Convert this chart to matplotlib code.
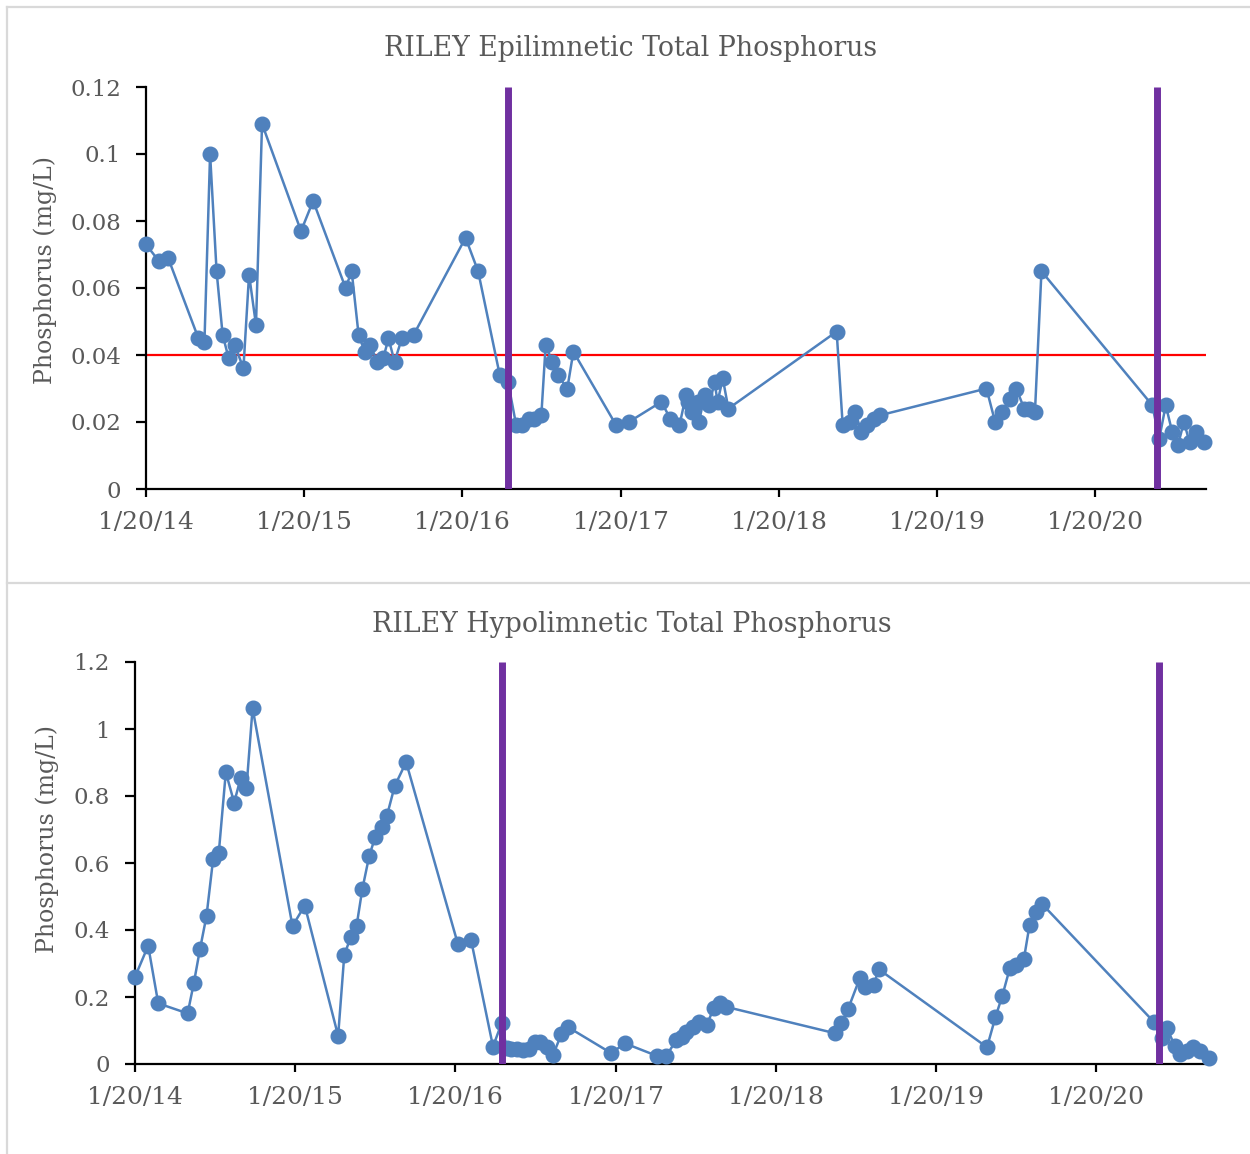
import matplotlib
matplotlib.use("Agg")
import matplotlib.pyplot as plt
import matplotlib.dates as mdates
from matplotlib.lines import Line2D
import pandas as pd

# ---------------- data ----------------
epi_dates = [
    "2014-01-20", "2014-02-19", "2014-03-12", "2014-05-21", "2014-06-04", "2014-06-17", "2014-07-02",
    "2014-07-16", "2014-07-30", "2014-08-13", "2014-09-02", "2014-09-15", "2014-10-01", "2014-10-15",
    "2015-01-13", "2015-02-10", "2015-04-26", "2015-05-10", "2015-05-26", "2015-06-09", "2015-06-22",
    "2015-07-08", "2015-07-22", "2015-08-03", "2015-08-17", "2015-09-03", "2015-09-30",
    "2016-01-28", "2016-02-26", "2016-04-16", "2016-05-05", "2016-05-24", "2016-06-07", "2016-06-22",
    "2016-07-05", "2016-07-21", "2016-07-31", "2016-08-15", "2016-08-28", "2016-09-19", "2016-10-03",
    "2017-01-10", "2017-02-08", "2017-04-24", "2017-05-15", "2017-06-05", "2017-06-20", "2017-06-24",
    "2017-07-04", "2017-07-17", "2017-07-20", "2017-08-02", "2017-08-13", "2017-08-25", "2017-09-01",
    "2017-09-13", "2017-09-26",
    "2018-06-03", "2018-06-17", "2018-07-04", "2018-07-16", "2018-07-30", "2018-08-11", "2018-08-29",
    "2018-09-11",
    "2019-05-15", "2019-06-04", "2019-06-20", "2019-07-09", "2019-07-23", "2019-08-10", "2019-08-22",
    "2019-09-04", "2019-09-19",
    "2020-06-01", "2020-06-17", "2020-07-02", "2020-07-17", "2020-07-30", "2020-08-13", "2020-08-26",
    "2020-09-09", "2020-09-28",
]
epi_tp = [
    0.073, 0.068, 0.069, 0.045, 0.044, 0.100, 0.065, 0.046, 0.039, 0.043, 0.036, 0.064, 0.049, 0.109,
    0.077, 0.086, 0.060, 0.065, 0.046, 0.041, 0.043, 0.038, 0.039, 0.045, 0.038, 0.045, 0.046,
    0.075, 0.065, 0.034, 0.032, 0.019, 0.019, 0.021, 0.021, 0.022, 0.043, 0.038, 0.034, 0.030, 0.041,
    0.019, 0.020, 0.026, 0.021, 0.019, 0.028, 0.026, 0.023, 0.026, 0.020, 0.028, 0.025, 0.032, 0.026,
    0.033, 0.024,
    0.047, 0.019, 0.020, 0.023, 0.017, 0.019, 0.021, 0.022,
    0.030, 0.020, 0.023, 0.027, 0.030, 0.024, 0.024, 0.023, 0.065,
    0.025, 0.015, 0.025, 0.017, 0.013, 0.020, 0.014, 0.017, 0.014,
]

hypo_dates = [
    "2014-01-20", "2014-02-19", "2014-03-14", "2014-05-20", "2014-06-03", "2014-06-17", "2014-07-02",
    "2014-07-17", "2014-07-30", "2014-08-15", "2014-09-03", "2014-09-18", "2014-10-01", "2014-10-15",
    "2015-01-14", "2015-02-11", "2015-04-28", "2015-05-12", "2015-05-27", "2015-06-09", "2015-06-22",
    "2015-07-08", "2015-07-22", "2015-08-05", "2015-08-17", "2015-09-04", "2015-09-30",
    "2016-01-26", "2016-02-25", "2016-04-15", "2016-05-05", "2016-05-16", "2016-05-27", "2016-06-08",
    "2016-06-23", "2016-07-06", "2016-07-19", "2016-07-31", "2016-08-15", "2016-08-30", "2016-09-18",
    "2016-10-03",
    "2017-01-10", "2017-02-09", "2017-04-24", "2017-05-15", "2017-06-07", "2017-06-19", "2017-06-30",
    "2017-07-15", "2017-07-29", "2017-08-15", "2017-08-31", "2017-09-14", "2017-09-27",
    "2018-06-03", "2018-06-18", "2018-07-03", "2018-07-30", "2018-08-12", "2018-08-31", "2018-09-11",
    "2019-05-16", "2019-06-04", "2019-06-20", "2019-07-07", "2019-07-22", "2019-08-08", "2019-08-21",
    "2019-09-04", "2019-09-19",
    "2020-05-30", "2020-06-18", "2020-06-29", "2020-07-17", "2020-07-30", "2020-08-13", "2020-08-28",
    "2020-09-13", "2020-10-03",
]
hypo_tp = [
    0.260, 0.353, 0.181, 0.151, 0.241, 0.342, 0.442, 0.611, 0.631, 0.871, 0.780, 0.855, 0.823, 1.062,
    0.412, 0.473, 0.084, 0.325, 0.380, 0.412, 0.521, 0.622, 0.679, 0.708, 0.740, 0.830, 0.901,
    0.358, 0.370, 0.052, 0.123, 0.047, 0.044, 0.045, 0.043, 0.045, 0.067, 0.067, 0.052, 0.027, 0.090,
    0.110,
    0.032, 0.062, 0.024, 0.024, 0.072, 0.082, 0.096, 0.111, 0.126, 0.116, 0.166, 0.183, 0.171,
    0.092, 0.121, 0.163, 0.256, 0.229, 0.236, 0.283,
    0.050, 0.139, 0.204, 0.286, 0.296, 0.313, 0.415, 0.455, 0.477,
    0.126, 0.077, 0.108, 0.054, 0.030, 0.039, 0.050, 0.039, 0.017,
]

event_dates = ["2016-05-05", "2020-06-11"]     # purple vertical markers
epi_threshold = 0.04                            # red reference line
tick_dates = ["2014-01-20", "2015-01-20", "2016-01-20", "2017-01-20",
              "2018-01-20", "2019-01-20", "2020-01-20"]
x_start, x_end = "2014-01-20", "2020-10-03"

titles = ["RILEY Epilimnetic Total Phosphorus", "RILEY Hypolimnetic Total Phosphorus"]
ylabel = "Phosphorus (mg/L)"

# ---------------- style ----------------
FONT = ["DejaVu Serif"]
plt.rcParams["font.family"] = FONT
TXT = "#595959"
BLUE = "#4F81BD"
PURPLE = "#7030A0"

W, H = 1250, 1154
fig = plt.figure(figsize=(W / 100, H / 100), dpi=100)
fig.patch.set_facecolor("white")

# panel borders
border = "#d9d9d9"
fig.add_artist(Line2D([7 / W, 7 / W], [0, 1 - 7 / H], transform=fig.transFigure, color=border, lw=1.6))
fig.add_artist(Line2D([7 / W, 1], [1 - 7 / H, 1 - 7 / H], transform=fig.transFigure, color=border, lw=1.6))
fig.add_artist(Line2D([7 / W, 1], [1 - 582.5 / H, 1 - 582.5 / H], transform=fig.transFigure, color=border, lw=1.6))


def px_axes(l, r, t, b):
    return fig.add_axes([l / W, 1 - b / H, (r - l) / W, (b - t) / H])


def style_axes(ax, ymax, ystep):
    for s in ["top", "right"]:
        ax.spines[s].set_visible(False)
    for s in ["left", "bottom"]:
        ax.spines[s].set_color("black")
        ax.spines[s].set_linewidth(1.6)
    ax.set_ylim(0, ymax)
    n = int(round(ymax / ystep))
    yt = [round(i * ystep, 4) for i in range(n + 1)]
    ax.set_yticks(yt)
    ax.set_yticklabels([f"{v:g}" for v in yt])
    td = pd.to_datetime(tick_dates)
    ax.set_xticks(mdates.date2num(td))
    ax.set_xticklabels([f"{d.month}/{d.day}/{d.strftime('%y')}" for d in td])
    ax.set_xlim(mdates.date2num(pd.Timestamp(x_start)), mdates.date2num(pd.Timestamp(x_end)))
    ax.tick_params(axis="y", direction="out", length=7, width=1.6, colors="black",
                   labelcolor=TXT, labelsize=16.5, pad=11)
    ax.tick_params(axis="x", direction="out", length=6, width=1.6, colors="black",
                   labelcolor=TXT, labelsize=18, pad=10)


def draw_series(ax, dates, vals, ymax):
    d = mdates.date2num(pd.to_datetime(dates))
    ax.plot(d, vals, color=BLUE, lw=1.8, marker="o", markersize=10.5,
            markerfacecolor=BLUE, markeredgecolor=BLUE, zorder=3, clip_on=False)
    for ed in event_dates:
        x = mdates.date2num(pd.Timestamp(ed))
        ax.plot([x, x], [0, ymax], color=PURPLE, lw=5, zorder=4, solid_capstyle="butt")


# top panel
ax1 = px_axes(146, 1206, 87, 489)
style_axes(ax1, 0.12, 0.02)
ax1.plot(mdates.date2num(pd.to_datetime([x_start, x_end])), [epi_threshold, epi_threshold],
         color="#FF0000", lw=1.6, zorder=2)
draw_series(ax1, epi_dates, epi_tp, 0.12)
fig.text(631 / W, 1 - 48 / H, titles[0], ha="center", va="center", fontsize=19.3, color=TXT)
fig.text(45 / W, 1 - 270 / H, ylabel, ha="center", va="center", rotation=90, fontsize=17, color=TXT)

# bottom panel
ax2 = px_axes(135, 1209, 662, 1064)
style_axes(ax2, 1.2, 0.2)
draw_series(ax2, hypo_dates, hypo_tp, 1.2)
fig.text(632 / W, 1 - 624 / H, titles[1], ha="center", va="center", fontsize=19.3, color=TXT)
fig.text(47 / W, 1 - 839 / H, ylabel, ha="center", va="center", rotation=90, fontsize=17, color=TXT)

fig.savefig("out.png", dpi=100, facecolor="white")
